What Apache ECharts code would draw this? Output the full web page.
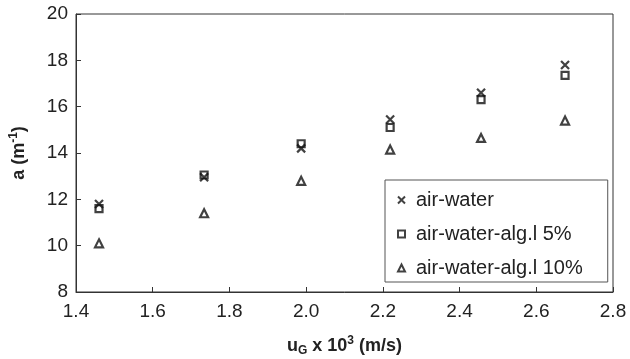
<!DOCTYPE html>
<html><head><meta charset="utf-8">
<script src="https://cdn.jsdelivr.net/npm/echarts@6/dist/echarts.min.js"></script>
<style>html,body{margin:0;padding:0;background:#fff}#c{width:630px;height:359px}</style>
</head><body><div id="c"></div>
<script>
var uG = [1.46, 1.734, 1.987, 2.219, 2.456, 2.675];
var airWater = [11.8, 12.95, 14.2, 15.45, 16.6, 17.8];
var alg5 = [11.6, 13.05, 14.4, 15.1, 16.3, 17.35];
var alg10 = [10.1, 11.4, 12.8, 14.15, 14.65, 15.4];
var seriesNames = ['air-water', 'air-water-alg.l 5%', 'air-water-alg.l 10%'];

function pairs(ys){ return uG.map(function(x,i){ return [x, ys[i]]; }); }
var crossPath = 'path://M0,0L10,10M10,0L0,10';
var ink = '#111';
var FF = 'Liberation Sans, Arial, sans-serif';
var chart = echarts.init(document.getElementById('c'), null, {renderer:'canvas'});
function ser(name, ys, symbol, size){
  return {name:name, type:'scatter', data:pairs(ys), symbol:symbol, symbolSize:size,
    itemStyle:{color:'rgba(0,0,0,0)', borderColor:ink, borderWidth:2.2}};
}
var legStyle = {color:'rgba(0,0,0,0)', borderColor:ink, borderWidth:2};
chart.setOption({
  animation:false,
  textStyle:{fontFamily:FF},
  grid:{left:76, right:17, top:14, bottom:67, outerBoundsMode:'none', containLabel:false,
    show:true, borderColor:'#333', borderWidth:1, backgroundColor:'transparent'},
  legend:{
    orient:'vertical', left:385, top:180,
    padding:[10,25,4,12], itemGap:14, itemWidth:7, itemHeight:7,
    borderColor:'#555', borderWidth:1, backgroundColor:'#fff',
    textStyle:{fontSize:20, color:'#222', fontFamily:FF, padding:[0,0,0,6]},
    data:[
      {name:seriesNames[0], icon:crossPath, itemStyle:legStyle},
      {name:seriesNames[1], icon:'rect', itemStyle:legStyle},
      {name:seriesNames[2], icon:'triangle', itemStyle:legStyle}
    ]
  },
  xAxis:{type:'value', min:1.4, max:2.8, interval:0.2,
    axisLine:{show:true, lineStyle:{color:'#333'}},
    axisTick:{show:true, inside:true, length:5, lineStyle:{color:'#333'}},
    splitLine:{show:false},
    axisLabel:{fontSize:19, color:'#222', margin:10, formatter:function(v){return v.toFixed(1);}},
    name:'{b|u}{sub|G}{b| x 10}{sup|3}{b| (m/s)}', nameLocation:'middle', nameGap:43,
    nameTextStyle:{rich:{
      b:{fontSize:18, fontWeight:'bold', color:'#222', fontFamily:FF},
      sub:{fontSize:12, fontWeight:'bold', color:'#222', padding:[10,0,0,0], fontFamily:FF},
      sup:{fontSize:12, fontWeight:'bold', color:'#222', padding:[0,0,10,0], fontFamily:FF}
    }}
  },
  yAxis:{type:'value', min:8, max:20, interval:2,
    axisLine:{show:true, lineStyle:{color:'#333'}},
    axisTick:{show:true, inside:true, length:5, lineStyle:{color:'#333'}},
    splitLine:{show:false},
    axisLabel:{fontSize:19, color:'#222', margin:8},
    name:'{b|a (m}{sup|-1}{b|)}', nameLocation:'middle', nameGap:46, nameRotate:90,
    nameTextStyle:{rich:{
      b:{fontSize:18, fontWeight:'bold', color:'#222', fontFamily:FF},
      sup:{fontSize:12, fontWeight:'bold', color:'#222', padding:[0,0,10,0], fontFamily:FF}
    }}
  },
  series:[
    ser(seriesNames[0], airWater, crossPath, 8),
    ser(seriesNames[1], alg5, 'rect', 7),
    ser(seriesNames[2], alg10, 'triangle', 8)
  ]
});
</script></body></html>
